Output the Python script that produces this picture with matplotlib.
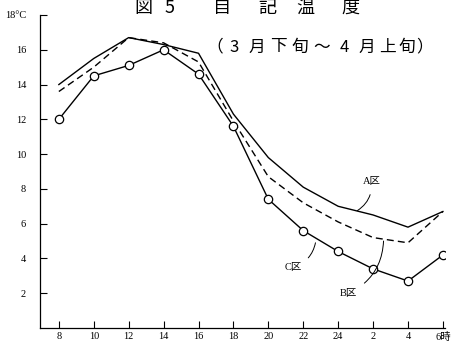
import numpy as np
import matplotlib.pyplot as plt

plt.rcParams['font.family'] = ['Liberation Serif', 'Noto Sans CJK JP']

hours = ['8', '10', '12', '14', '16', '18', '20', '22', '24', '2', '4', '6時']
temp_a = [14.0, 15.5, 16.7, 16.3, 15.8, 12.3, 9.8, 8.1, 7.0, 6.5, 5.8, 6.7]
temp_b = [13.6, 15.0, 16.7, 16.4, 15.3, 11.9, 8.7, 7.2, 6.1, 5.2, 4.9, 6.7]
temp_c = [12.0, 14.5, 15.1, 16.0, 14.6, 11.6, 7.4, 5.6, 4.4, 3.4, 2.7, 4.2]
y_ticks = [2, 4, 6, 8, 10, 12, 14, 16, 18]
y_labels = ['2', '4', '6', '8', '10', '12', '14', '16', '18°C']

title_chars = ['図', '5', '自', '記', '温', '度']
title_px = [143, 170, 222, 267, 305, 350]
sub_chars = ['（', '3', '月', '下', '旬', '～', '4', '月', '上', '旬', '）']
sub_px = [215, 234, 257, 278, 300, 322, 344, 367, 387, 407, 425]

x = np.arange(len(hours))

fig = plt.figure(figsize=(4.52, 3.42), dpi=100)
W, H = 452, 342
ax = fig.add_axes([40/W, 1 - 328/H, 405/W, 313/H])

lw = 1.0
ax.plot(x, temp_a, '-', color='black', lw=lw)
ax.plot(x, temp_b, '--', color='black', lw=lw, dashes=(5, 3))
ax.plot(x, temp_c, '-', color='black', lw=lw, marker='o', ms=6,
        mfc='white', mec='black', mew=0.9)

ax.set_xlim(-0.54, 11.06)
ax.set_ylim(0, 18)
ax.set_xticks(x)
ax.set_xticklabels(hours, fontsize=7.5)
ax.set_yticks(y_ticks)
ax.set_yticklabels(y_labels, fontsize=7.5)
ax.tick_params(axis='both', direction='in', length=5, width=0.8, pad=3)
ax.tick_params(axis='y', pad=10)
for s in ['top', 'right']:
    ax.spines[s].set_visible(False)
for s in ['left', 'bottom']:
    ax.spines[s].set_linewidth(0.9)

cjk = ['Noto Sans CJK JP']
for ch, px in zip(title_chars, title_px):
    fig.text(px/W, 1 - 8/H, ch, ha='center', va='center', fontsize=13, family=cjk)
for ch, px in zip(sub_chars, sub_px):
    fig.text(px/W, 1 - 47/H, ch, ha='center', va='center', fontsize=12, family=cjk)

arc = dict(arrowstyle='-', color='black', lw=0.7)
ax.annotate('A区', xy=(8.55, temp_a[8] - 0.25), xytext=(8.95, 8.4), fontsize=7.5,
            ha='center', va='center',
            arrowprops=dict(arc, connectionstyle='arc3,rad=-0.3', shrinkB=0, shrinkA=4))
ax.annotate('B区', xy=(9.3, 5.0), xytext=(8.3, 2.0), fontsize=7.5,
            ha='center', va='center',
            arrowprops=dict(arc, connectionstyle='arc3,rad=0.3', shrinkB=0, shrinkA=4))
ax.annotate('C区', xy=(7.35, 4.9), xytext=(6.7, 3.5), fontsize=7.5,
            ha='center', va='center',
            arrowprops=dict(arc, connectionstyle='arc3,rad=0.3', shrinkB=0, shrinkA=4))

fig.savefig('out.png', dpi=100)
